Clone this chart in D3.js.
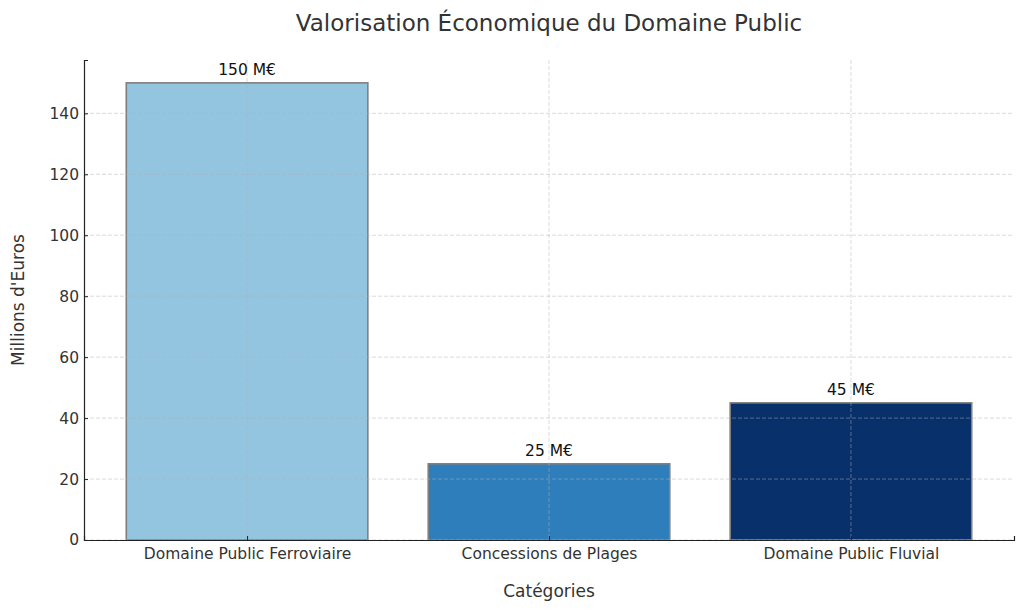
<!DOCTYPE html>
<html>
<head>
<meta charset="utf-8">
<script src="https://cdn.jsdelivr.net/npm/d3@7"></script>
<style>
  body { margin: 0; background: #fff; }
  text { font-family: "DejaVu Sans", sans-serif; }
</style>
</head>
<body>
<script>
// Chart data
const categories = ["Domaine Public Ferroviaire", "Concessions de Plages", "Domaine Public Fluvial"];
const values = [150, 25, 45];
const barColors = ["#93c4e0", "#2e7ebc", "#08306b"];
const yTicks = [0, 20, 40, 60, 80, 100, 120, 140];

const width = 1024, height = 610;
const margin = { top: 60, right: 10, bottom: 70, left: 84 };
const plotW = width - margin.left - margin.right;
const plotH = height - margin.top - margin.bottom;

const svg = d3.select("body").append("svg")
  .attr("width", width)
  .attr("height", height);

const g = svg.append("g")
  .attr("transform", `translate(${margin.left},${margin.top})`);

// matplotlib-like limits: bars of width 0.8 at 0,1,2 with 5% margins
const x = d3.scaleLinear().domain([-0.54, categories.length - 1 + 0.54]).range([0, plotW]);
const y = d3.scaleLinear().domain([0, 157.5]).range([plotH, 0]);
const barW = x(0.8) - x(0);

// bars
g.selectAll(".bar")
  .data(values)
  .enter()
  .append("rect")
  .attr("class", "bar")
  .attr("x", (d, i) => x(i) - barW / 2)
  .attr("y", (d) => y(d))
  .attr("width", barW)
  .attr("height", (d) => y(0) - y(d))
  .attr("fill", (d, i) => barColors[i])
  .attr("stroke", "#808080")
  .attr("stroke-width", 1.6);

// grid (drawn above bars)
const grid = g.append("g").attr("class", "grid");
grid.selectAll(".hgrid")
  .data(yTicks)
  .enter()
  .append("line")
  .attr("x1", 0)
  .attr("x2", plotW)
  .attr("y1", (d) => y(d))
  .attr("y2", (d) => y(d))
  .attr("stroke", "#b0b0b0")
  .attr("stroke-opacity", 0.6)
  .attr("stroke-dasharray", "4,2")
  .attr("stroke-width", 0.8);
grid.selectAll(".vgrid")
  .data(categories)
  .enter()
  .append("line")
  .attr("x1", (d, i) => x(i))
  .attr("x2", (d, i) => x(i))
  .attr("y1", 0)
  .attr("y2", plotH)
  .attr("stroke", "#b0b0b0")
  .attr("stroke-opacity", 0.6)
  .attr("stroke-dasharray", "4,2")
  .attr("stroke-width", 0.8);

// y axis
const yAxis = g.append("g")
  .call(d3.axisLeft(y).tickValues(yTicks).tickSize(-4).tickPadding(5));
yAxis.select(".domain").attr("stroke", "#222").attr("stroke-width", 1.2);
yAxis.selectAll(".tick line").attr("stroke", "#222");
yAxis.selectAll("text").attr("font-size", 15.5).attr("fill", "#333")
  .style("font-family", "DejaVu Sans");

// x axis
const xAxis = g.append("g")
  .attr("transform", `translate(0,${plotH})`)
  .call(d3.axisBottom(x).tickValues(d3.range(categories.length))
    .tickFormat((d) => categories[d]).tickSize(-4).tickPadding(8));
xAxis.select(".domain").attr("stroke", "#222").attr("stroke-width", 1.2);
xAxis.selectAll(".tick line").attr("stroke", "#222");
xAxis.selectAll("text").attr("font-size", 15.5).attr("fill", "#333")
  .style("font-family", "DejaVu Sans");

// value labels
g.selectAll(".val")
  .data(values)
  .enter()
  .append("text")
  .attr("x", (d, i) => x(i))
  .attr("y", (d) => y(d) - 8)
  .attr("text-anchor", "middle")
  .attr("font-size", 15.5)
  .attr("fill", "#111")
  .text((d) => `${d} M€`);

// title and axis labels
svg.append("text")
  .attr("x", margin.left + plotW / 2)
  .attr("y", 31)
  .attr("text-anchor", "middle")
  .attr("font-size", 23)
  .attr("fill", "#333")
  .text("Valorisation Économique du Domaine Public");

svg.append("text")
  .attr("x", margin.left + plotW / 2)
  .attr("y", 597)
  .attr("text-anchor", "middle")
  .attr("font-size", 17)
  .attr("fill", "#333")
  .text("Catégories");

svg.append("text")
  .attr("transform", `translate(24,${margin.top + plotH / 2}) rotate(-90)`)
  .attr("text-anchor", "middle")
  .attr("font-size", 17)
  .attr("fill", "#333")
  .text("Millions d'Euros");
</script>
</body>
</html>
